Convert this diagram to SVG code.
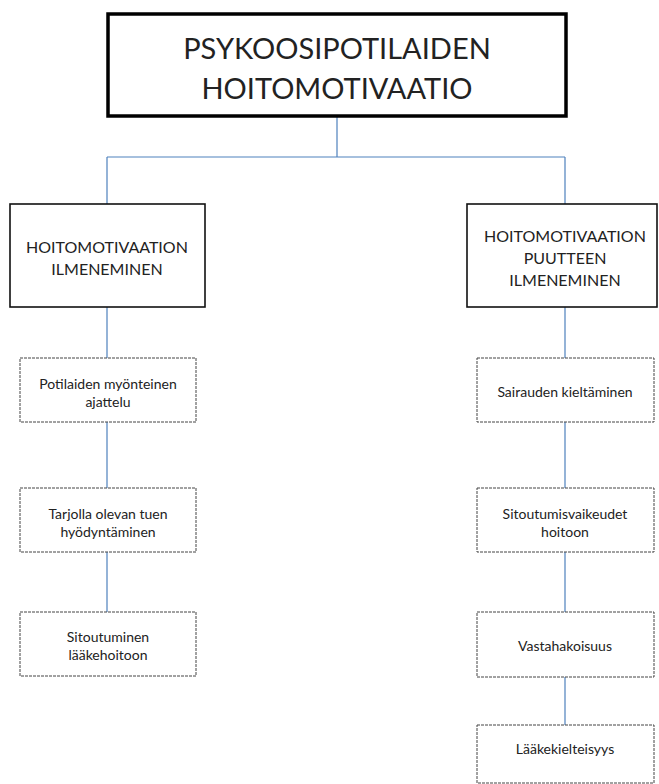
<svg xmlns="http://www.w3.org/2000/svg" width="659" height="784" viewBox="0 0 659 784">
<style>
.bg{fill:#fff}
.title{fill:#fff;stroke:#000;stroke-width:3.5}
.mid{fill:#fff;stroke:#111;stroke-width:1.6}
.leaf{fill:#fff;stroke:#444;stroke-width:1;stroke-dasharray:3 1}
.conn{fill:none;stroke:#4f81bd;stroke-width:1.2}
text{font-family:Lato,"Open Sans","Liberation Sans",sans-serif;fill:#222;text-anchor:middle;dominant-baseline:central}
.t1{font-size:29px}
.t2{font-size:16px}
.t3{font-size:14px}
</style>
<rect class="bg" x="0" y="0" width="659" height="784"/>
<g id="connectors">
<path class="conn" d="M337 117V157M107 157H565M107 157V204M565 157V204"/>
<path class="conn" d="M107 307V358M107 422V488M107 552V612"/>
<path class="conn" d="M565 307V358M565 422V488M565 552V612M565 677V725"/>
</g>
<g id="root">
<rect class="title" x="108" y="14" width="458" height="102"/>
<text class="t1" x="337" y="47">PSYKOOSIPOTILAIDEN</text>
<text class="t1" x="337" y="87">HOITOMOTIVAATIO</text>
</g>
<g id="left-head">
<rect class="mid" x="10" y="204" width="195" height="103"/>
<text class="t2" x="107" y="246">HOITOMOTIVAATION</text>
<text class="t2" x="107" y="268">ILMENEMINEN</text>
</g>
<g id="right-head">
<rect class="mid" x="467" y="204" width="190" height="103"/>
<text class="t2" x="565" y="235">HOITOMOTIVAATION</text>
<text class="t2" x="565" y="257">PUUTTEEN</text>
<text class="t2" x="565" y="279">ILMENEMINEN</text>
</g>
<g id="l1">
<rect class="leaf" x="20" y="358" width="176" height="64"/>
<text class="t3" x="108" y="383">Potilaiden myönteinen</text>
<text class="t3" x="108" y="401">ajattelu</text>
</g>
<g id="l2">
<rect class="leaf" x="20" y="488" width="176" height="64"/>
<text class="t3" x="108" y="513">Tarjolla olevan tuen</text>
<text class="t3" x="108" y="531">hyödyntäminen</text>
</g>
<g id="l3">
<rect class="leaf" x="20" y="612" width="176" height="64"/>
<text class="t3" x="108" y="636">Sitoutuminen</text>
<text class="t3" x="108" y="654">lääkehoitoon</text>
</g>
<g id="r1">
<rect class="leaf" x="477" y="358" width="177" height="64"/>
<text class="t3" x="565" y="391">Sairauden kieltäminen</text>
</g>
<g id="r2">
<rect class="leaf" x="477" y="488" width="177" height="64"/>
<text class="t3" x="565" y="513">Sitoutumisvaikeudet</text>
<text class="t3" x="565" y="531">hoitoon</text>
</g>
<g id="r3">
<rect class="leaf" x="477" y="612" width="177" height="65"/>
<text class="t3" x="565" y="645">Vastahakoisuus</text>
</g>
<g id="r4">
<rect class="leaf" x="477" y="725" width="177" height="58"/>
<text class="t3" x="565" y="748">Lääkekielteisyys</text>
</g>
</svg>
